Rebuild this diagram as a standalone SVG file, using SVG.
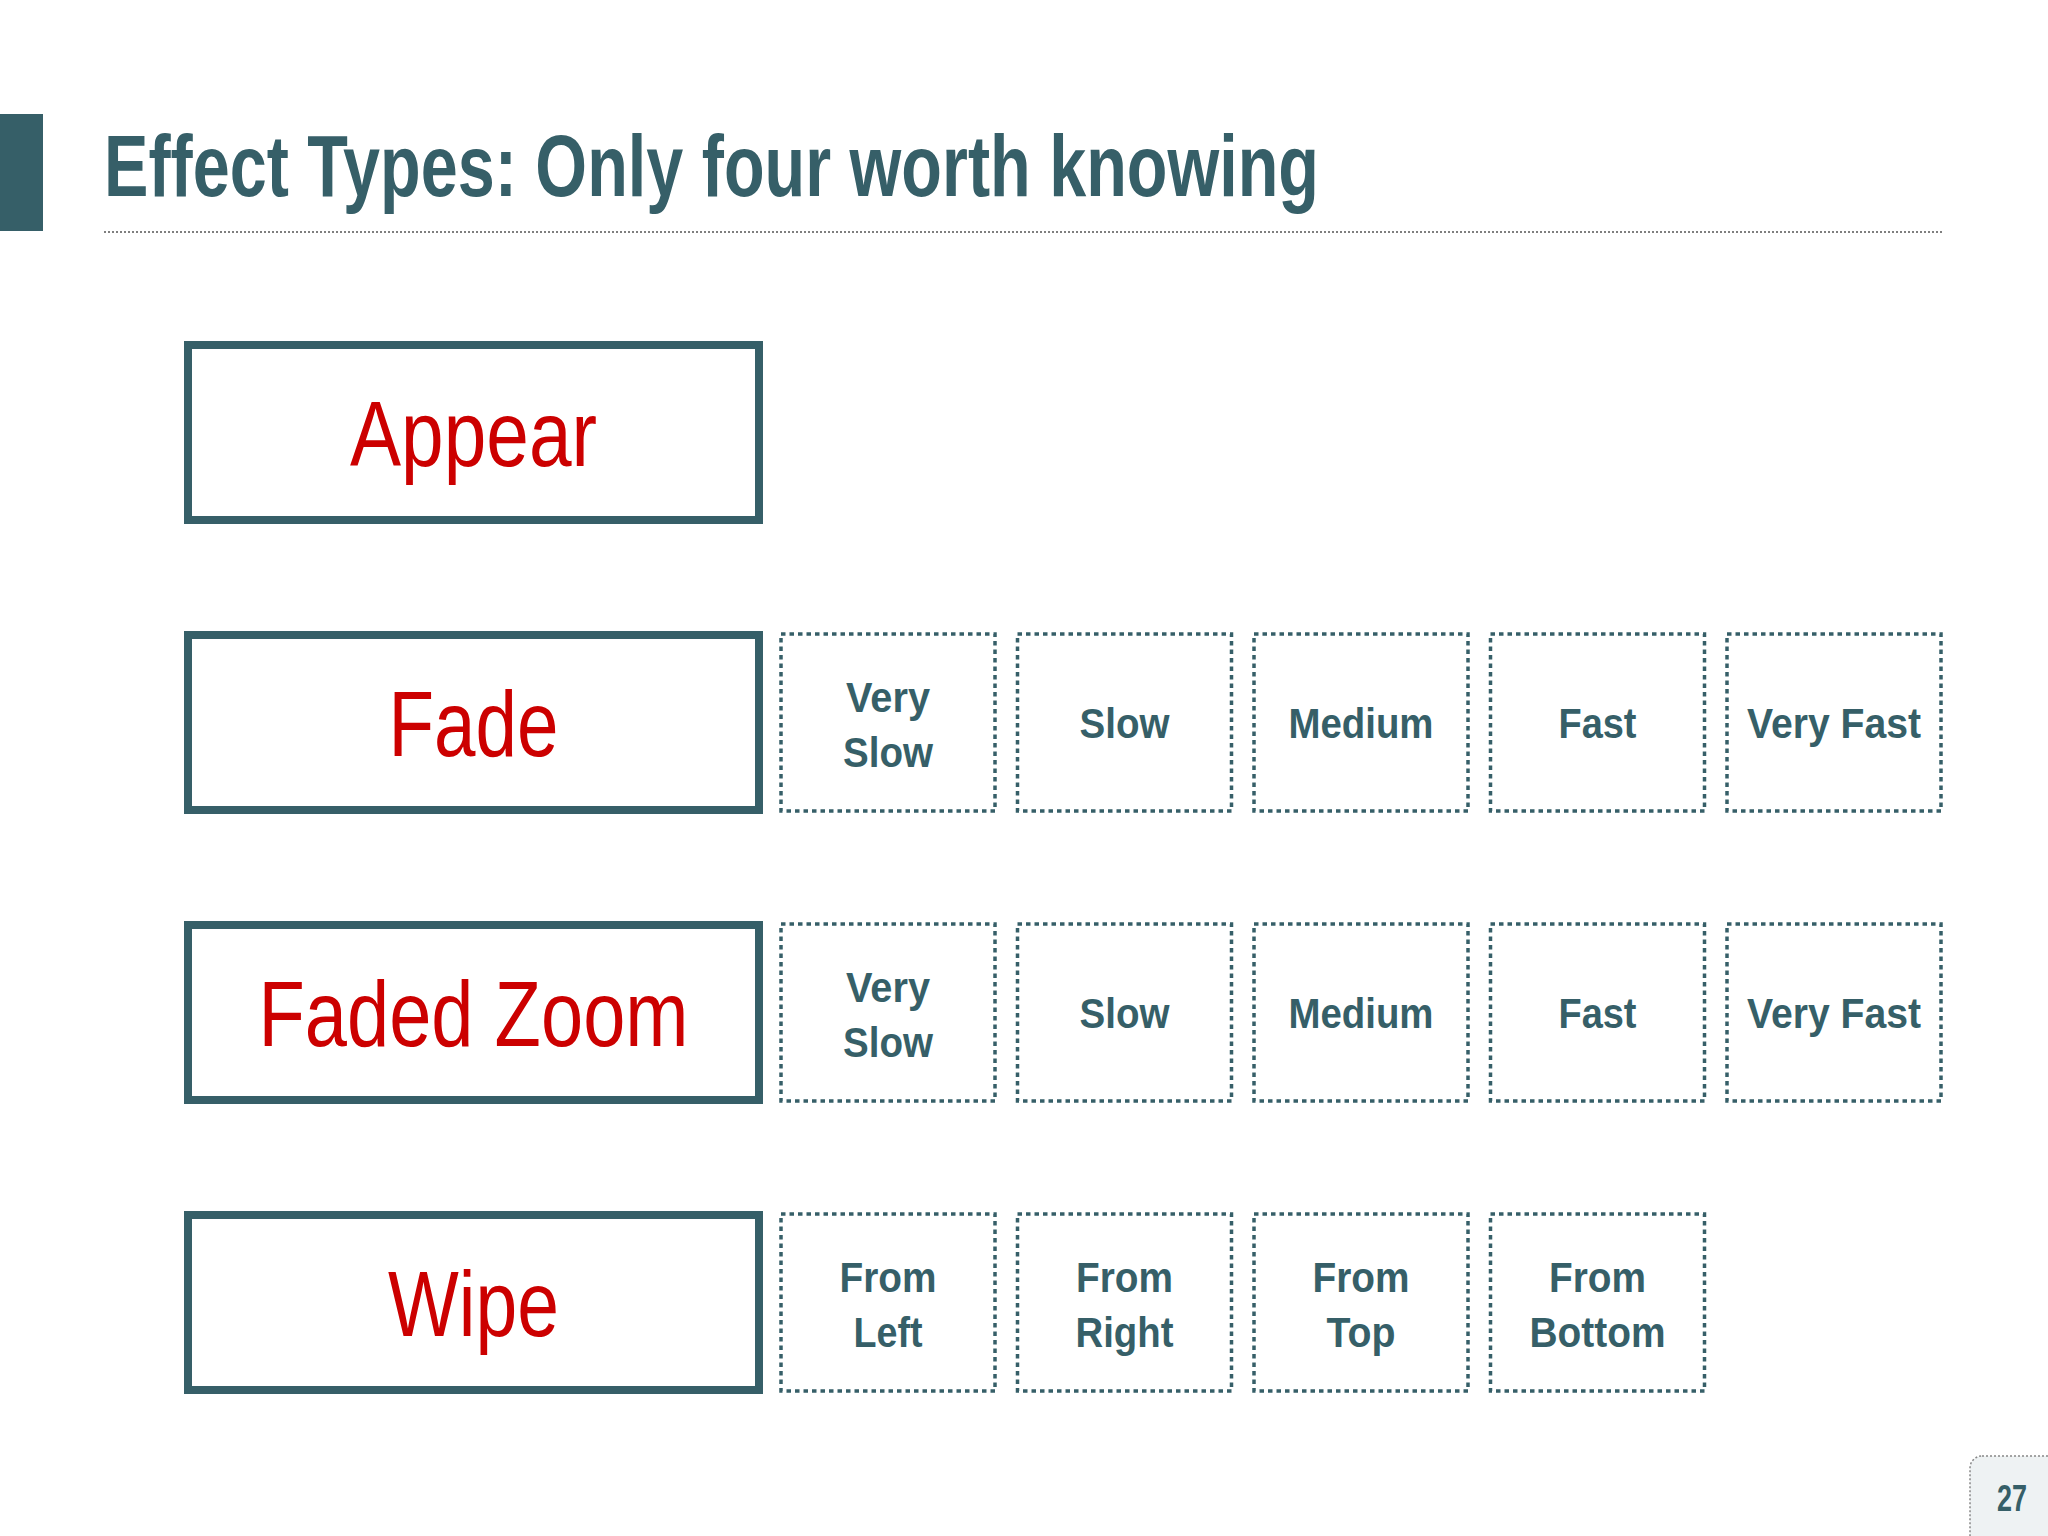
<svg xmlns="http://www.w3.org/2000/svg" width="2048" height="1536" viewBox="0 0 2048 1536">
<style>
.big{fill:#ffffff;stroke:#365f68;stroke-width:8}
.small{fill:#ffffff;stroke:#365f68;stroke-width:3.5;stroke-dasharray:4.5 4}
.lbl{font-family:"Liberation Sans",Arial,sans-serif;font-size:93px;fill:#cc0000;text-anchor:middle}
.opt{font-family:"Liberation Sans",Arial,sans-serif;font-size:42px;font-weight:bold;fill:#365f68;text-anchor:middle}
.title{font-family:"Liberation Sans",Arial,sans-serif;font-size:88px;font-weight:bold;fill:#365f68}
</style>
<rect x="0" y="0" width="2048" height="1536" fill="#ffffff"/>
<rect x="0" y="114" width="43" height="117" fill="#365f68"/>
<text class="title" x="104" y="196" textLength="1215" lengthAdjust="spacingAndGlyphs">Effect Types: Only four worth knowing</text>
<line x1="104" y1="232" x2="1944" y2="232" stroke="#555" stroke-width="1.5" stroke-dasharray="2 2"/>

<g id="appear"><rect class="big" x="188" y="345" width="571" height="175"/><text class="lbl" x="473.5" y="466" textLength="247" lengthAdjust="spacingAndGlyphs">Appear</text></g>
<g id="fade"><rect class="big" x="188" y="635" width="571" height="175"/><text class="lbl" x="473.5" y="756" textLength="170" lengthAdjust="spacingAndGlyphs">Fade</text></g>
<g id="faded-zoom"><rect class="big" x="188" y="925" width="571" height="175"/><text class="lbl" x="473.5" y="1046" textLength="430" lengthAdjust="spacingAndGlyphs">Faded Zoom</text></g>
<g id="wipe"><rect class="big" x="188" y="1215" width="571" height="175"/><text class="lbl" x="473.5" y="1336" textLength="171" lengthAdjust="spacingAndGlyphs">Wipe</text></g>

<g id="fade-options">
<g id="fade-veryslow"><rect class="small" x="781" y="634" width="214" height="177"/><text class="opt" x="888" y="712" textLength="84" lengthAdjust="spacingAndGlyphs">Very</text><text class="opt" x="888" y="767" textLength="90" lengthAdjust="spacingAndGlyphs">Slow</text></g>
<g id="fade-slow"><rect class="small" x="1017.5" y="634" width="214" height="177"/><text class="opt" x="1124.5" y="738" textLength="90" lengthAdjust="spacingAndGlyphs">Slow</text></g>
<g id="fade-medium"><rect class="small" x="1254" y="634" width="214" height="177"/><text class="opt" x="1361" y="738" textLength="145" lengthAdjust="spacingAndGlyphs">Medium</text></g>
<g id="fade-fast"><rect class="small" x="1490.5" y="634" width="214" height="177"/><text class="opt" x="1597.5" y="738" textLength="78" lengthAdjust="spacingAndGlyphs">Fast</text></g>
<g id="fade-veryfast"><rect class="small" x="1727" y="634" width="214" height="177"/><text class="opt" x="1834" y="738" textLength="174" lengthAdjust="spacingAndGlyphs">Very Fast</text></g>
</g>

<g id="zoom-options">
<g id="zoom-veryslow"><rect class="small" x="781" y="924" width="214" height="177"/><text class="opt" x="888" y="1002" textLength="84" lengthAdjust="spacingAndGlyphs">Very</text><text class="opt" x="888" y="1057" textLength="90" lengthAdjust="spacingAndGlyphs">Slow</text></g>
<g id="zoom-slow"><rect class="small" x="1017.5" y="924" width="214" height="177"/><text class="opt" x="1124.5" y="1028" textLength="90" lengthAdjust="spacingAndGlyphs">Slow</text></g>
<g id="zoom-medium"><rect class="small" x="1254" y="924" width="214" height="177"/><text class="opt" x="1361" y="1028" textLength="145" lengthAdjust="spacingAndGlyphs">Medium</text></g>
<g id="zoom-fast"><rect class="small" x="1490.5" y="924" width="214" height="177"/><text class="opt" x="1597.5" y="1028" textLength="78" lengthAdjust="spacingAndGlyphs">Fast</text></g>
<g id="zoom-veryfast"><rect class="small" x="1727" y="924" width="214" height="177"/><text class="opt" x="1834" y="1028" textLength="174" lengthAdjust="spacingAndGlyphs">Very Fast</text></g>
</g>

<g id="wipe-options">
<g id="wipe-left"><rect class="small" x="781" y="1214" width="214" height="177"/><text class="opt" x="888" y="1292" textLength="97" lengthAdjust="spacingAndGlyphs">From</text><text class="opt" x="888" y="1347" textLength="69" lengthAdjust="spacingAndGlyphs">Left</text></g>
<g id="wipe-right"><rect class="small" x="1017.5" y="1214" width="214" height="177"/><text class="opt" x="1124.5" y="1292" textLength="97" lengthAdjust="spacingAndGlyphs">From</text><text class="opt" x="1124.5" y="1347" textLength="98" lengthAdjust="spacingAndGlyphs">Right</text></g>
<g id="wipe-top"><rect class="small" x="1254" y="1214" width="214" height="177"/><text class="opt" x="1361" y="1292" textLength="97" lengthAdjust="spacingAndGlyphs">From</text><text class="opt" x="1361" y="1347" textLength="69" lengthAdjust="spacingAndGlyphs">Top</text></g>
<g id="wipe-bottom"><rect class="small" x="1490.5" y="1214" width="214" height="177"/><text class="opt" x="1597.5" y="1292" textLength="97" lengthAdjust="spacingAndGlyphs">From</text><text class="opt" x="1597.5" y="1347" textLength="136" lengthAdjust="spacingAndGlyphs">Bottom</text></g>
</g>

<g id="connectors"></g>

<g id="page-number">
<rect x="1970" y="1456" width="100" height="100" rx="12" fill="#eef2f3" stroke="#888" stroke-width="1.5" stroke-dasharray="2 2"/>
<text x="2012" y="1511" font-family="'Liberation Sans',Arial,sans-serif" font-size="37" font-weight="bold" fill="#365f68" text-anchor="middle" textLength="30" lengthAdjust="spacingAndGlyphs">27</text>
</g>
</svg>
